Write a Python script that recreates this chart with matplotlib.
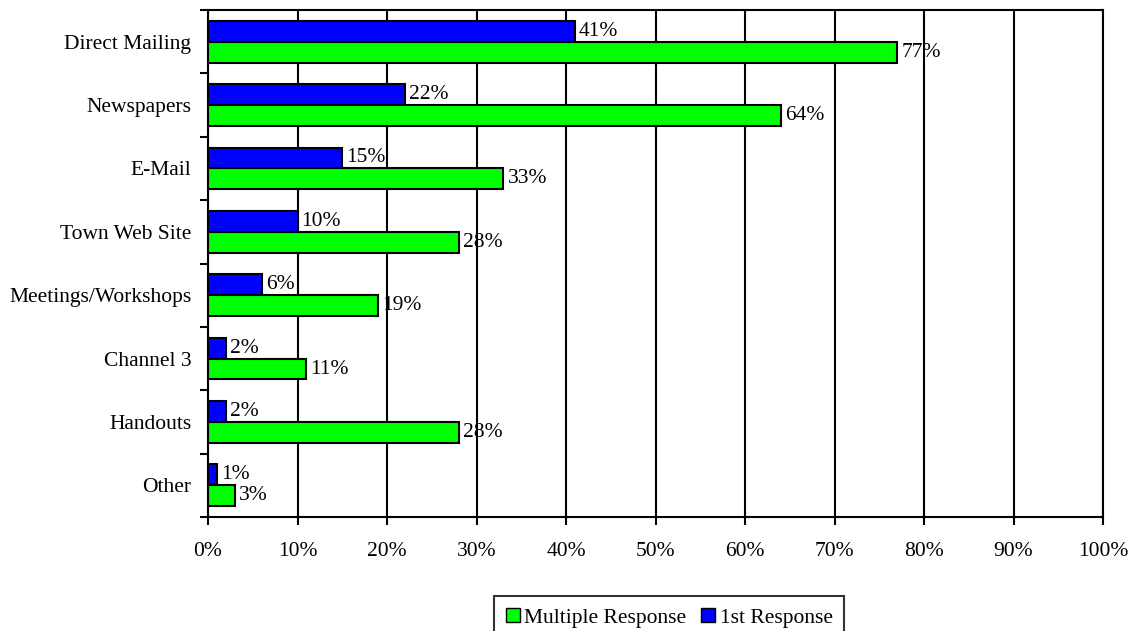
import numpy as np
import matplotlib.pyplot as plt
from matplotlib.patches import Patch

plt.rcParams['font.family'] = ['Liberation Serif', 'DejaVu Serif']

categories = ['Direct Mailing', 'Newspapers', 'E-Mail', 'Town Web Site',
              'Meetings/Workshops', 'Channel 3', 'Handouts', 'Other']
first_resp = [41, 22, 15, 10, 6, 2, 2, 1]
multi_resp = [77, 64, 33, 28, 19, 11, 28, 3]
xticks = list(range(0, 101, 10))

FS = 15.5

fig = plt.figure(figsize=(11.29, 6.31), dpi=100)
ax = fig.add_axes([208 / 1129, 1 - 517 / 631, (1103 - 208) / 1129, (517 - 10) / 631])

n = len(categories)
y = np.arange(n)[::-1].astype(float)
h = 0.33

# blue on top, green below
b1 = ax.barh(y + h / 2, first_resp, height=h, color='#0000ff', edgecolor='black', linewidth=1.5, zorder=3)
b2 = ax.barh(y - h / 2, multi_resp, height=h, color='#00ff00', edgecolor='black', linewidth=1.5, zorder=3)

for bars, vals in ((b1, first_resp), (b2, multi_resp)):
    for rect, v in zip(bars, vals):
        ax.annotate(f'{v}%', (v, rect.get_y() + h / 2), xytext=(3, 0), textcoords='offset points',
                    va='center', ha='left', fontsize=FS, zorder=4)

ax.set_xlim(0, 100)
ax.set_ylim(-0.5, n - 0.5)
ax.set_xticks(xticks)
ax.set_xticklabels([f'{t}%' for t in xticks], fontsize=FS)
ax.xaxis.grid(True, color='black', linewidth=1.5, zorder=0)

# category labels centred, ticks between categories
ax.set_yticks(y)
ax.set_yticklabels(categories, fontsize=FS)
ax.tick_params(axis='y', length=0, pad=12)
ax.set_yticks(np.arange(n + 1) - 0.5, minor=True)
ax.tick_params(axis='y', which='minor', length=6, width=1.5, direction='out')
ax.tick_params(axis='x', length=6, width=1.5, direction='out', pad=12)

for s in ax.spines.values():
    s.set_linewidth(1.5)

handles = [Patch(facecolor='#00ff00', edgecolor='black', label='Multiple Response'),
           Patch(facecolor='#0000ff', edgecolor='black', label='1st Response')]
leg = fig.legend(handles=handles, loc='upper left', bbox_to_anchor=(494 / 1129, 1 - 596 / 631),
                 ncol=2, fontsize=FS, frameon=True, fancybox=False, handlelength=0.65,
                 handleheight=0.65, handletextpad=0.2, columnspacing=0.7, borderpad=0.55,
                 borderaxespad=0)
leg.get_frame().set_edgecolor('black')
leg.get_frame().set_linewidth(1.5)

fig.savefig('out.png', dpi=100)
